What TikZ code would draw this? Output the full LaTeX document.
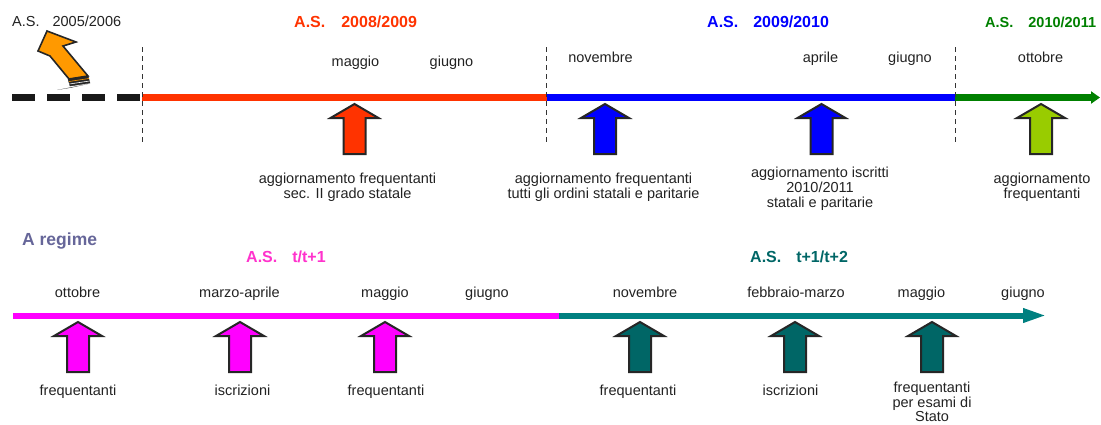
\documentclass[tikz,border=0pt]{standalone}
\usepackage{fontspec}
\setmainfont{Liberation Sans}
\usepackage{xcolor}
\usepackage{tikz}
\usetikzlibrary{arrows.meta,positioning}

\definecolor{redAS}{HTML}{FF3300}
\definecolor{blueAS}{HTML}{0000FF}
\definecolor{greenAS}{HTML}{008000}
\definecolor{limeAS}{HTML}{99CC00}
\definecolor{orangeAS}{HTML}{FF9900}
\definecolor{magentaAS}{HTML}{FF00FF}
\definecolor{pinkAS}{HTML}{FF33CC}
\definecolor{tealAS}{HTML}{008080}
\definecolor{darktealAS}{HTML}{006666}
\definecolor{regimeAS}{HTML}{666699}
\definecolor{inkAS}{HTML}{222222}

\tikzset{
  month/.style={anchor=base, inner sep=0pt, text=inkAS, font=\fontsize{14.5}{15}\selectfont},
  yearhead/.style={anchor=base west, inner sep=0pt, font=\fontsize{16}{18}\selectfont\bfseries},
  note/.style={anchor=north, inner sep=0pt, align=center, text=inkAS, font=\fontsize{14.5}{15}\selectfont},
  timeline/.style={line width=6.5pt},
  yearsep/.style={line width=0.8pt, dash pattern=on 5pt off 4pt, black!80},
  pics/upblock/.style={code={
    \filldraw[line width=2pt, draw=black!85, fill=#1, line join=miter]
      (0,0) -- (24,14) -- (11,14) -- (11,50) -- (-11,50) -- (-11,14) -- (-24,14) -- cycle;
  }}
}

\begin{document}
\begin{tikzpicture}[x=1pt, y=-1pt]
  \useasboundingbox (0,0) rectangle (1101,424);

  % Top timeline
  \coordinate (k0) at (12,97.5);
  \coordinate (k1) at (142,97.5);
  \coordinate (k2) at (547,97.5);
  \coordinate (k3) at (955,97.5);
  \coordinate (k4) at (1100,97.5);
  \draw[timeline, black!90, dash pattern=on 23pt off 12pt] (k0) -- (k1);
  \draw[timeline, redAS] (k1) -- (k2);
  \draw[timeline, blueAS] (k2) -- (k3);
  \draw[timeline, greenAS, -{Triangle[length=9pt, width=12pt]}] (k3) -- (k4);

  % School year separators
  \draw[yearsep] (142,47) -- (142,142);
  \draw[yearsep] (546,47) -- (546,142);
  \draw[yearsep] (955,47) -- (955,142);

  % Old year arrow (2005/2006)
  \filldraw[orangeAS, draw=black!85, line width=1.6pt, line join=miter]
    (47,31) -- (76,42) -- (63,46) -- (88,76) -- (69,79) -- (50,56) -- (38,51) -- cycle;
  \filldraw[black!85] (68,79) -- (88,76) -- (90,83) -- (70,86) -- cycle;
  \draw[orangeAS, line width=0.6pt] (69,81.5) -- (89,78.5);
  \draw[white, line width=0.6pt] (69.5,84) -- (89.5,81);
  \fill[black!85] (57,90) -- (88,84) -- (72,87.5) -- cycle;

  % Year headings
  \node[anchor=base west, inner sep=0pt, text=inkAS, font=\fontsize{14.5}{15}\selectfont]
    (as0506) at (12,26) {A.S.\hspace{13pt}2005/2006};
  \node[yearhead, text=redAS] (as0809) at (294,27) {A.S.\hspace{16pt}2008/2009};
  \node[yearhead, text=blueAS] (as0910) at (707,27) {A.S.\hspace{15pt}2009/2010};
  \node[yearhead, text=greenAS, font=\fontsize{14.5}{16}\selectfont\bfseries]
    (as1011) at (985,27) {A.S.\hspace{15pt}2010/2011};

  % Months (top)
  \node[month] (mag09) at (355.5,66) {maggio};
  \node[month] (giu09) at (451.5,66) {giugno};
  \node[month] (nov09) at (600.5,62) {novembre};
  \node[month] (apr10) at (820.5,62) {aprile};
  \node[month] (giu10) at (910,62) {giugno};
  \node[month] (ott10) at (1040.5,62) {ottobre};

  % Update arrows (top)
  \pic at (354.5,104) {upblock=redAS};
  \pic at (605,104) {upblock=blueAS};
  \pic at (821.5,104) {upblock=blueAS};
  \pic at (1041,104) {upblock=limeAS};

  \node[note] (noteMag) at (347.5,172.5) {aggiornamento frequentanti\\sec. II grado statale};
  \node[note] (noteNov) at (603.5,172.5) {aggiornamento frequentanti\\tutti gli ordini statali e paritarie};
  \node[note] (noteApr) at (820,166.5) {aggiornamento iscritti\\2010/2011\\statali e paritarie};
  \node[note] (noteOtt) at (1042,172.5) {aggiornamento\\frequentanti};

  % Steady state
  \node[anchor=base west, inner sep=0pt, text=regimeAS, font=\fontsize{17.5}{20}\selectfont\bfseries]
    (regime) at (22,245) {A regime};
  \node[yearhead, text=pinkAS] (asT) at (246,262) {A.S.\hspace{15pt}t/t+1};
  \node[yearhead, text=darktealAS] (asT1) at (750,262) {A.S.\hspace{15pt}t+1/t+2};

  % Bottom timeline
  \coordinate (r0) at (13,315.5);
  \coordinate (r1) at (559,315.5);
  \coordinate (r2) at (1047,315.5);
  \draw[line width=6pt, magentaAS] (r0) -- (r1);
  \draw[line width=6pt, tealAS, -{Triangle[length=24pt, width=13pt]}] (r1) -- (r2);

  % Months (bottom)
  \node[month] (ottT) at (77.5,297) {ottobre};
  \node[month] (marT) at (239.5,297) {marzo-aprile};
  \node[month] (magT) at (385,297) {maggio};
  \node[month] (giuT) at (487,297) {giugno};
  \node[month] (novT1) at (645,297) {novembre};
  \node[month] (febT1) at (796,297) {febbraio-marzo};
  \node[month] (magT1) at (921.5,297) {maggio};
  \node[month] (giuT1) at (1023,297) {giugno};

  % Data arrows (bottom)
  \pic at (78,322) {upblock=magentaAS};
  \pic at (240,322) {upblock=magentaAS};
  \pic at (385,322) {upblock=magentaAS};
  \pic at (640,322) {upblock=darktealAS};
  \pic at (795,322) {upblock=darktealAS};
  \pic at (932,322) {upblock=darktealAS};

  \node[note] (freqT) at (78,385) {frequentanti};
  \node[note] (iscrT) at (242.5,385) {iscrizioni};
  \node[note] (freqT2) at (386,385) {frequentanti};
  \node[note] (freqT1) at (638,385) {frequentanti};
  \node[note] (iscrT1) at (790.5,385) {iscrizioni};
  \node[note, font=\fontsize{14.5}{12.5}\selectfont] (esamiT1) at (932,382) {frequentanti\\per esami di\\Stato};
\end{tikzpicture}
\end{document}
